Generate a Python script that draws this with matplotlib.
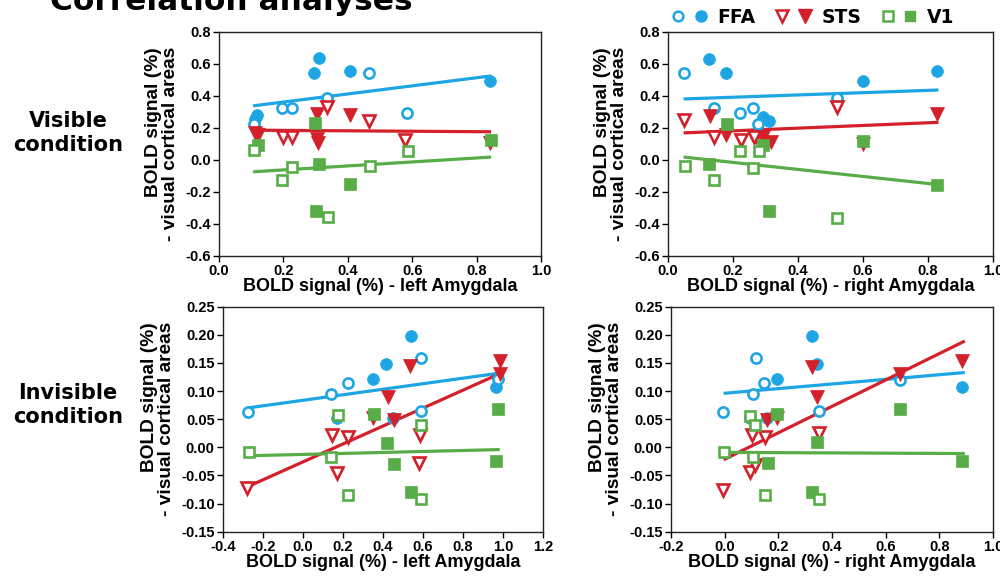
import numpy as np
import matplotlib
matplotlib.use("Agg")
import matplotlib.pyplot as plt
from matplotlib.lines import Line2D
from matplotlib.legend_handler import HandlerTuple
from matplotlib.ticker import FormatStrFormatter


BLUE = "#1ea5e4"
RED = "#d3202a"
GREEN = "#58ad48"

# ---- Visible condition, left amygdala ----
VL_FFA_OPEN_X = [0.108, 0.196, 0.228, 0.336, 0.465, 0.583]
VL_FFA_OPEN_Y = [0.224, 0.326, 0.326, 0.388, 0.546, 0.294]
VL_FFA_FILL_X = [0.113, 0.117, 0.296, 0.311, 0.407, 0.842]
VL_FFA_FILL_Y = [0.255, 0.280, 0.546, 0.638, 0.557, 0.492]
VL_STS_OPEN_X = [0.199, 0.228, 0.336, 0.465, 0.579]
VL_STS_OPEN_Y = [0.145, 0.145, 0.328, 0.245, 0.124]
VL_STS_FILL_X = [0.111, 0.121, 0.303, 0.303, 0.306, 0.407, 0.842]
VL_STS_FILL_Y = [0.166, 0.155, 0.284, 0.134, 0.103, 0.280, 0.105]
VL_V1_OPEN_X = [0.108, 0.197, 0.228, 0.339, 0.469, 0.586]
VL_V1_OPEN_Y = [0.061, -0.126, -0.045, -0.355, -0.036, 0.055]
VL_V1_FILL_X = [0.121, 0.298, 0.311, 0.301, 0.407, 0.845]
VL_V1_FILL_Y = [0.093, 0.232, -0.026, -0.317, -0.153, 0.124]
VL_FIT_X = [0.106, 0.845]
VL_FFA_FIT_Y = [0.338, 0.525]
VL_STS_FIT_Y = [0.186, 0.176]
VL_V1_FIT_Y = [-0.074, 0.018]

# ---- Visible condition, right amygdala ----
VR_FFA_OPEN_X = [0.049, 0.142, 0.221, 0.262, 0.277, 0.519]
VR_FFA_OPEN_Y = [0.543, 0.323, 0.294, 0.323, 0.226, 0.385]
VR_FFA_FILL_X = [0.125, 0.177, 0.293, 0.310, 0.601, 0.827]
VR_FFA_FILL_Y = [0.630, 0.543, 0.270, 0.241, 0.494, 0.554]
VR_STS_OPEN_X = [0.049, 0.142, 0.224, 0.264, 0.519]
VR_STS_OPEN_Y = [0.250, 0.146, 0.122, 0.143, 0.328]
VR_STS_FILL_X = [0.128, 0.179, 0.272, 0.291, 0.317, 0.601, 0.827]
VR_STS_FILL_Y = [0.277, 0.153, 0.146, 0.143, 0.112, 0.097, 0.284]
VR_V1_OPEN_X = [0.051, 0.142, 0.221, 0.262, 0.279, 0.519]
VR_V1_OPEN_Y = [-0.038, -0.127, 0.053, -0.049, 0.059, -0.360]
VR_V1_FILL_X = [0.126, 0.180, 0.293, 0.310, 0.601, 0.827]
VR_V1_FILL_Y = [-0.028, 0.225, 0.095, -0.318, 0.117, -0.159]
VR_FIT_X = [0.048, 0.832]
VR_FFA_FIT_Y = [0.381, 0.437]
VR_STS_FIT_Y = [0.169, 0.235]
VR_V1_FIT_Y = [0.018, -0.154]

# ---- Invisible condition, left amygdala ----
IL_FFA_OPEN_X = [-0.277, 0.141, 0.227, 0.588, 0.590, 0.975]
IL_FFA_OPEN_Y = [0.063, 0.094, 0.114, 0.158, 0.065, 0.122]
IL_FFA_FILL_X = [0.172, 0.352, 0.415, 0.452, 0.538, 0.967]
IL_FFA_FILL_Y = [0.052, 0.121, 0.148, 0.052, 0.198, 0.108]
IL_STS_OPEN_X = [-0.280, 0.144, 0.169, 0.227, 0.585, 0.582]
IL_STS_OPEN_Y = [-0.073, 0.022, -0.046, 0.019, 0.022, -0.028]
IL_STS_FILL_X = [0.348, 0.427, 0.457, 0.535, 0.984, 0.984]
IL_STS_FILL_Y = [0.052, 0.090, 0.049, 0.145, 0.154, 0.130]
IL_V1_OPEN_X = [-0.272, 0.141, 0.177, 0.227, 0.588, 0.590]
IL_V1_OPEN_Y = [-0.008, -0.018, 0.057, -0.085, 0.040, -0.092]
IL_V1_FILL_X = [0.355, 0.422, 0.457, 0.538, 0.975, 0.967]
IL_V1_FILL_Y = [0.060, 0.007, -0.030, -0.079, 0.068, -0.024]
IL_FIT_X = [-0.277, 0.984]
IL_FFA_FIT_Y = [0.070, 0.132]
IL_STS_FIT_Y = [-0.070, 0.131]
IL_V1_FIT_Y = [-0.015, -0.004]

# ---- Invisible condition, right amygdala ----
IR_FFA_OPEN_X = [-0.007, 0.105, 0.117, 0.145, 0.353, 0.655]
IR_FFA_OPEN_Y = [0.063, 0.094, 0.158, 0.114, 0.065, 0.120]
IR_FFA_FILL_X = [0.095, 0.157, 0.194, 0.324, 0.343, 0.886]
IR_FFA_FILL_Y = [0.052, 0.052, 0.121, 0.198, 0.148, 0.108]
IR_STS_OPEN_X = [-0.007, 0.095, 0.101, 0.114, 0.151, 0.353]
IR_STS_OPEN_Y = [-0.076, -0.043, 0.022, -0.031, 0.019, 0.025]
IR_STS_FILL_X = [0.157, 0.194, 0.324, 0.345, 0.655, 0.886]
IR_STS_FILL_Y = [0.049, 0.053, 0.143, 0.090, 0.130, 0.154]
IR_V1_OPEN_X = [-0.004, 0.093, 0.114, 0.105, 0.151, 0.353]
IR_V1_OPEN_Y = [-0.008, 0.056, 0.039, -0.017, -0.085, -0.092]
IR_V1_FILL_X = [0.194, 0.160, 0.324, 0.343, 0.655, 0.886]
IR_V1_FILL_Y = [0.060, -0.028, -0.079, 0.009, 0.068, -0.024]
IR_FIT_X = [-0.004, 0.895]
IR_FFA_FIT_Y = [0.096, 0.133]
IR_STS_FIT_Y = [-0.022, 0.189]
IR_V1_FIT_Y = [-0.009, -0.011]

VIS_YTICKS = [-0.6, -0.4, -0.2, 0.0, 0.2, 0.4, 0.6, 0.8]
VIS_XTICKS = [0.0, 0.2, 0.4, 0.6, 0.8, 1.0]
INV_YTICKS = [-0.15, -0.10, -0.05, 0.00, 0.05, 0.10, 0.15, 0.20, 0.25]
INV_L_XTICKS = [-0.4, -0.2, 0.0, 0.2, 0.4, 0.6, 0.8, 1.0, 1.2]
INV_R_XTICKS = [-0.2, 0.0, 0.2, 0.4, 0.6, 0.8, 1.0]

MARKERS = {"FFA": ("o", 8.5), "STS": ("v", 10.5), "V1": ("s", 8.0)}
COLORS = {"FFA": BLUE, "STS": RED, "V1": GREEN}

TICK_FONT = "Liberation Sans"
ROW_FONT = "DejaVu Sans"


def draw_panel(ax, pts, fits, fit_x, xticks, yticks, yfmt, xlabel):
    for name, fy in fits.items():
        ax.plot(fit_x, fy, color=COLORS[name], lw=2.3, solid_capstyle="butt", zorder=2)

    z = 3
    for name in ["FFA", "STS", "V1"]:
        mk, ms = MARKERS[name]
        c = COLORS[name]
        ox, oy, fx, fy = pts[name]
        ax.plot(fx, fy, ls="none", marker=mk, ms=ms, mfc=c, mec=c, mew=0.5, zorder=z)
        ax.plot(ox, oy, ls="none", marker=mk, ms=ms - 1.2, mfc="white", mec=c, mew=1.9, zorder=z + 1)
        z += 2

    ax.set_xlim(xticks[0], xticks[-1])
    ax.set_ylim(yticks[0], yticks[-1])
    ax.set_xticks(xticks)
    ax.set_yticks(yticks)
    ax.xaxis.set_major_formatter(FormatStrFormatter("%.1f"))
    ax.yaxis.set_major_formatter(FormatStrFormatter(yfmt))
    ax.tick_params(direction="out", length=4, width=1.0, top=False, right=False, pad=2)
    for lbl in ax.get_xticklabels() + ax.get_yticklabels():
        lbl.set_fontfamily(TICK_FONT)
        lbl.set_fontweight("bold")
        lbl.set_fontsize(10.5)
    for sp in ax.spines.values():
        sp.set_linewidth(1.0)
        sp.set_color("#222222")

    ax.set_xlabel(xlabel, fontfamily=TICK_FONT, fontweight="bold", fontsize=13, labelpad=0)
    ax.set_ylabel("BOLD signal (%)\n- visual cortical areas", fontfamily=TICK_FONT,
                  fontweight="bold", fontsize=13.8, labelpad=4, linespacing=1.0,
                  multialignment="right")


fig = plt.figure(figsize=(10, 5.76), dpi=100)

ax_vl = fig.add_axes([0.219, 0.5556, 0.322, 0.389])
ax_vr = fig.add_axes([0.668, 0.5556, 0.325, 0.389])
ax_il = fig.add_axes([0.223, 0.0769, 0.320, 0.3906])
ax_ir = fig.add_axes([0.671, 0.0769, 0.322, 0.3906])

draw_panel(
    ax_vl,
    {"FFA": (VL_FFA_OPEN_X, VL_FFA_OPEN_Y, VL_FFA_FILL_X, VL_FFA_FILL_Y),
     "STS": (VL_STS_OPEN_X, VL_STS_OPEN_Y, VL_STS_FILL_X, VL_STS_FILL_Y),
     "V1": (VL_V1_OPEN_X, VL_V1_OPEN_Y, VL_V1_FILL_X, VL_V1_FILL_Y)},
    {"FFA": VL_FFA_FIT_Y, "STS": VL_STS_FIT_Y, "V1": VL_V1_FIT_Y},
    VL_FIT_X, VIS_XTICKS, VIS_YTICKS, "%.1f", "BOLD signal (%) - left Amygdala",
)
draw_panel(
    ax_vr,
    {"FFA": (VR_FFA_OPEN_X, VR_FFA_OPEN_Y, VR_FFA_FILL_X, VR_FFA_FILL_Y),
     "STS": (VR_STS_OPEN_X, VR_STS_OPEN_Y, VR_STS_FILL_X, VR_STS_FILL_Y),
     "V1": (VR_V1_OPEN_X, VR_V1_OPEN_Y, VR_V1_FILL_X, VR_V1_FILL_Y)},
    {"FFA": VR_FFA_FIT_Y, "STS": VR_STS_FIT_Y, "V1": VR_V1_FIT_Y},
    VR_FIT_X, VIS_XTICKS, VIS_YTICKS, "%.1f", "BOLD signal (%) - right Amygdala",
)
draw_panel(
    ax_il,
    {"FFA": (IL_FFA_OPEN_X, IL_FFA_OPEN_Y, IL_FFA_FILL_X, IL_FFA_FILL_Y),
     "STS": (IL_STS_OPEN_X, IL_STS_OPEN_Y, IL_STS_FILL_X, IL_STS_FILL_Y),
     "V1": (IL_V1_OPEN_X, IL_V1_OPEN_Y, IL_V1_FILL_X, IL_V1_FILL_Y)},
    {"FFA": IL_FFA_FIT_Y, "STS": IL_STS_FIT_Y, "V1": IL_V1_FIT_Y},
    IL_FIT_X, INV_L_XTICKS, INV_YTICKS, "%.2f", "BOLD signal (%) - left Amygdala",
)
draw_panel(
    ax_ir,
    {"FFA": (IR_FFA_OPEN_X, IR_FFA_OPEN_Y, IR_FFA_FILL_X, IR_FFA_FILL_Y),
     "STS": (IR_STS_OPEN_X, IR_STS_OPEN_Y, IR_STS_FILL_X, IR_STS_FILL_Y),
     "V1": (IR_V1_OPEN_X, IR_V1_OPEN_Y, IR_V1_FILL_X, IR_V1_FILL_Y)},
    {"FFA": IR_FFA_FIT_Y, "STS": IR_STS_FIT_Y, "V1": IR_V1_FIT_Y},
    IR_FIT_X, INV_R_XTICKS, INV_YTICKS, "%.2f", "BOLD signal (%) - right Amygdala",
)

# title (cut at the top edge in the original figure) and row labels
fig.text(0.05, 0.9835, "Correlation analyses", fontfamily=ROW_FONT, fontweight="bold",
         fontsize=22.5, va="baseline", ha="left")
fig.text(0.068, 0.769, "Visible\ncondition", fontfamily=ROW_FONT, fontweight="bold",
         fontsize=15, ha="center", va="center", linespacing=1.25)
fig.text(0.068, 0.297, "Invisible\ncondition", fontfamily=ROW_FONT, fontweight="bold",
         fontsize=15, ha="center", va="center", linespacing=1.25)

# legend: open + filled marker pairs
handles = []
for name in ["FFA", "STS", "V1"]:
    mk, ms = MARKERS[name]
    c = COLORS[name]
    h_open = Line2D([], [], ls="none", marker=mk, ms=ms - 1.5, mfc="white", mec=c, mew=1.8)
    h_fill = Line2D([], [], ls="none", marker=mk, ms=ms - 0.5, mfc=c, mec=c)
    handles.append((h_open, h_fill))

fig.legend(handles, ["FFA", "STS", "V1"], handler_map={tuple: HandlerTuple(ndivide=None, pad=0.4)},
           ncol=3, loc="center", bbox_to_anchor=(0.8125, 0.970), frameon=False,
           prop={"family": ROW_FONT, "weight": "bold", "size": 13.5},
           handlelength=2.0, handletextpad=0.5, columnspacing=1.0, borderpad=0)

fig.savefig("out.png", dpi=100)
